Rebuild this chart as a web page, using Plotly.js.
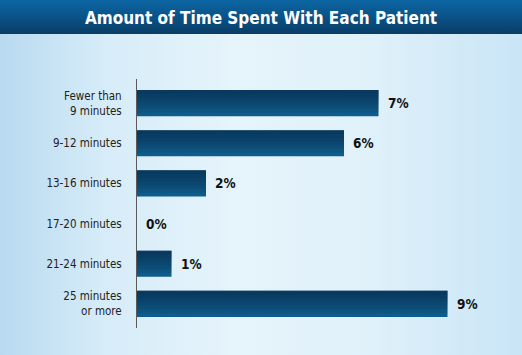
<!DOCTYPE html>
<html>
<head>
<meta charset="utf-8">
<script src="https://cdn.plot.ly/plotly-3.0.1.min.js"></script>
<style>
  html, body { margin: 0; padding: 0; }
  body {
    width: 522px; height: 355px; overflow: hidden; position: relative;
    background: linear-gradient(to right, #b8daf0 0%, #d6ecf8 20%, #e6f4fb 45%, #e0f1fa 70%, #c9e5f6 100%);
  }
  #bar {
    position: absolute; left: 0; top: 0; width: 522px; height: 34px;
    background: linear-gradient(to bottom, #0c66a3 0%, #0a5287 50%, #083d66 100%);
  }
  #chart { position: absolute; left: 0; top: 0; width: 522px; height: 355px; }
</style>
</head>
<body>
<div id="bar"></div>
<div id="chart"></div>
<script>
const categories = ["Fewer than<br>9 minutes", "9-12 minutes", "13-16 minutes", "17-20 minutes", "21-24 minutes", "25 minutes<br>or more"];
const values = [7, 6, 2, 0, 1, 9];
const valueLabels = ["7%", "6%", "2%", "0%", "1%", "9%"];
const titleText = "Amount of Time Spent With Each Patient";

const FONT = "'Liberation Sans Narrow', 'DejaVu Sans Condensed', 'Roboto Condensed', Arial, sans-serif";

const BAR_W = 0.65;
const traces = [{
  type: "bar",
  orientation: "h",
  x: values,
  y: categories,
  width: BAR_W,
  marker: { color: "#0e5c8b", line: { width: 0 } },
  hoverinfo: "skip"
}];
// gradient shading layers (darker towards the top of each bar)
const LAYERS = 6;
for (let k = 1; k <= LAYERS; k++) {
  traces.push({
    type: "bar",
    orientation: "h",
    x: values,
    y: categories,
    width: BAR_W * (1 - k / (LAYERS + 1)),
    offset: -BAR_W / 2,
    marker: { color: "rgba(5,30,55,0.11)", line: { width: 0 } },
    hoverinfo: "skip"
  });
}

const annotations = values.map((v, i) => ({
  x: v, y: categories[i], xref: "x", yref: "y",
  text: valueLabels[i], showarrow: false,
  xanchor: "left", yanchor: "middle", xshift: 7,
  font: { family: FONT, size: 13.5, color: "#111111", weight: "bold" }
}));

const layout = {
  width: 522, height: 355,
  margin: { l: 137, r: 40, t: 79, b: 27, pad: 0 },
  paper_bgcolor: "rgba(0,0,0,0)",
  plot_bgcolor: "rgba(0,0,0,0)",
  showlegend: false,
  barmode: "overlay",
  title: {
    text: "<b>" + titleText + "</b>",
    x: 0.5, xref: "container", xanchor: "center",
    y: 1 - 18 / 355, yref: "container", yanchor: "middle",
    font: { family: FONT, size: 17, color: "#ffffff" }
  },
  xaxis: {
    range: [0, 10], showgrid: false, zeroline: false, showline: false,
    showticklabels: false, ticks: "", fixedrange: true
  },
  yaxis: {
    type: "category", range: [5.6, -0.6], showgrid: false, zeroline: false,
    showline: true, linecolor: "#5a5a5a", linewidth: 1,
    ticks: "", ticklabelstandoff: 12,
    tickfont: { family: FONT, size: 11.5, color: "#222222" },
    fixedrange: true
  },
  annotations: annotations
};

Plotly.newPlot("chart", traces, layout, { staticPlot: true, displayModeBar: false });
</script>
</body>
</html>
